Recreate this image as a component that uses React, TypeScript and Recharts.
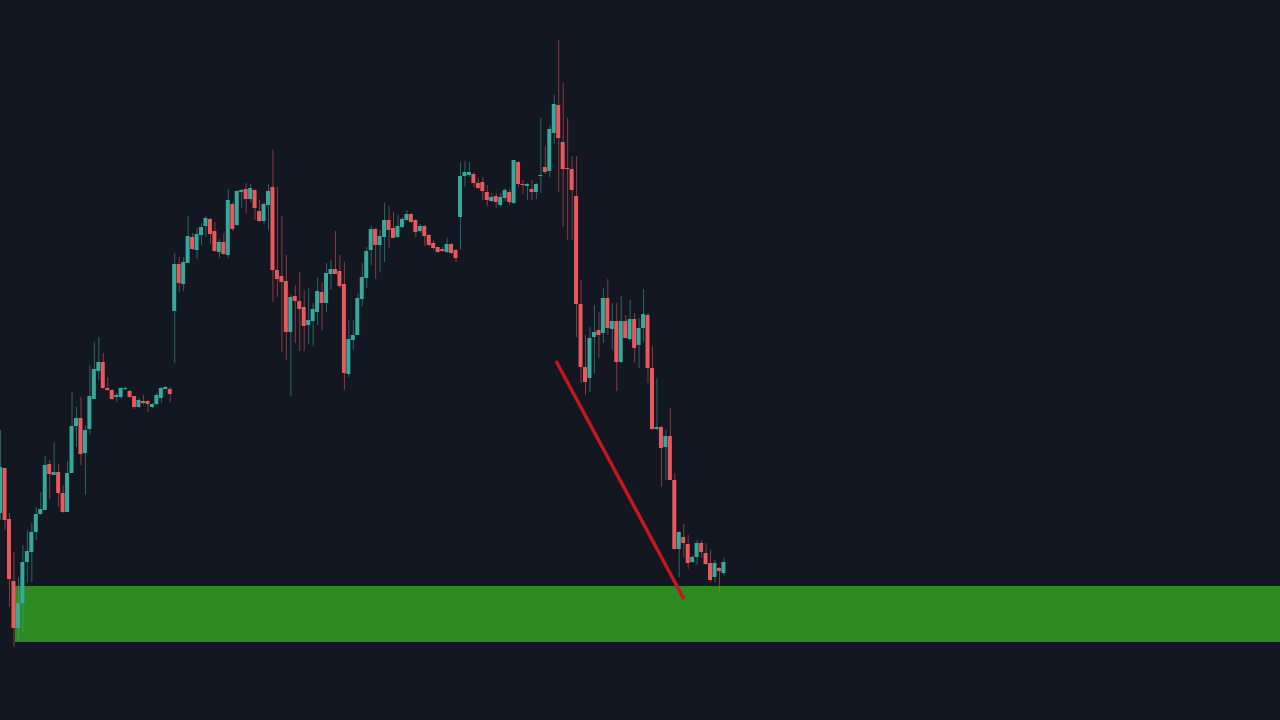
import { BarChart, Bar, Cell, XAxis, YAxis, ReferenceArea, ReferenceLine } from 'recharts';

// candle prices on a notional scale (the picture has no price axis)
const opens = [
  207, 252, 201, 139, 92, 117, 158, 168, 188, 206, 210, 256, 245, 248, 227, 208, 247, 294, 302, 267,
  291, 321, 349, 358, 332, 330, 323, 323, 331, 329, 324, 313, 319, 319, 313, 316, 322, 331, 331, 409,
  456, 436, 457, 483, 470, 485, 494, 501, 489, 468, 478, 465, 516, 495, 528, 531, 521, 530, 509, 499,
  515, 533, 450, 444, 439, 388, 424, 419, 413, 395, 399, 408, 428, 417, 446, 451, 449, 436, 346, 380,
  385, 421, 442, 470, 491, 475, 483, 500, 492, 483, 493, 500, 506, 500, 489, 494, 485, 477, 473, 471,
  468, 476, 470, 503, 544, 545, 546, 537, 538, 528, 519, 524, 515, 522, 528, 517, 558, 536, 534, 531,
  528, 544, 553, 549, 587, 615, 578, 552, 551, 524, 416, 353, 342, 383, 390, 387, 422, 391, 399, 358,
  399, 381, 401, 375, 392, 405, 352, 291, 293, 273, 284, 240, 171, 183, 176, 158, 163, 177, 167, 157,
  143, 152, 147,
];
const highs = [
  290, 252, 207, 168, 143, 175, 190, 197, 213, 228, 264, 260, 278, 256, 235, 259, 328, 313, 323, 295,
  355, 378, 383, 367, 343, 331, 327, 333, 333, 330, 324, 322, 325, 320, 317, 327, 333, 334, 333, 467,
  463, 463, 504, 487, 492, 497, 504, 502, 498, 481, 487, 531, 518, 530, 531, 537, 536, 531, 520, 518,
  536, 570, 533, 504, 465, 425, 435, 448, 430, 432, 417, 443, 438, 457, 460, 489, 465, 458, 400, 400,
  427, 457, 473, 494, 492, 490, 517, 514, 508, 505, 503, 510, 507, 501, 496, 495, 486, 480, 473, 473,
  482, 477, 471, 558, 559, 558, 548, 542, 543, 535, 527, 527, 527, 532, 531, 560, 559, 540, 537, 540,
  537, 602, 574, 595, 625, 680, 637, 602, 564, 564, 440, 385, 393, 415, 408, 432, 441, 417, 417, 424,
  405, 420, 407, 402, 431, 407, 374, 342, 294, 290, 312, 247, 189, 196, 185, 165, 180, 180, 177, 170,
  160, 153, 163,
];
const lows = [
  200, 190, 113, 73, 80, 88, 137, 138, 180, 205, 210, 221, 245, 213, 207, 208, 247, 273, 255, 225,
  286, 321, 340, 331, 329, 320, 318, 321, 330, 322, 311, 312, 315, 308, 312, 315, 317, 331, 318, 357,
  428, 429, 457, 470, 461, 475, 483, 476, 468, 462, 465, 462, 489, 494, 512, 507, 518, 500, 498, 496,
  490, 418, 423, 368, 360, 324, 377, 369, 369, 376, 374, 395, 390, 408, 430, 446, 432, 330, 343, 370,
  385, 414, 432, 455, 441, 448, 458, 472, 482, 482, 492, 499, 497, 483, 487, 474, 474, 470, 467, 468,
  467, 466, 458, 470, 533, 543, 533, 531, 520, 514, 518, 512, 513, 519, 515, 516, 533, 526, 520, 520,
  521, 527, 546, 543, 576, 528, 493, 480, 480, 383, 337, 325, 328, 347, 362, 377, 385, 370, 329, 357,
  382, 380, 357, 352, 378, 337, 290, 290, 233, 240, 240, 170, 143, 163, 151, 157, 155, 162, 155, 138,
  138, 128, 145,
];
const closes = [
  253, 200, 141, 92, 117, 158, 169, 188, 206, 211, 255, 246, 248, 227, 208, 247, 294, 302, 266, 290,
  324, 351, 358, 332, 330, 321, 325, 332, 332, 323, 313, 320, 317, 316, 316, 325, 332, 333, 326, 456,
  437, 458, 484, 471, 486, 493, 502, 486, 469, 478, 466, 520, 491, 529, 530, 521, 532, 512, 499, 516,
  529, 450, 441, 438, 388, 423, 419, 411, 394, 400, 411, 429, 417, 447, 451, 446, 434, 347, 381, 385,
  422, 443, 469, 491, 475, 484, 500, 490, 482, 494, 501, 506, 498, 488, 494, 484, 475, 472, 468, 469,
  476, 467, 462, 544, 548, 548, 537, 532, 529, 520, 523, 518, 523, 530, 518, 560, 536, 535, 536, 528,
  536, 545, 548, 591, 616, 582, 551, 551, 530, 416, 353, 338, 382, 388, 385, 422, 392, 399, 358, 399,
  382, 401, 372, 392, 406, 352, 291, 293, 272, 284, 240, 171, 188, 177, 157, 163, 177, 168, 156, 140,
  157, 149, 158,
];

const candles = opens.map((open, i) => ({
  slot: i,
  wick: [lows[i], highs[i]],
  body: [Math.min(open, closes[i]), Math.max(open, closes[i])],
  up: closes[i] >= open,
}));

const UP = '#36a99c';
const DOWN = '#e9585d';
const SLOT_DOMAIN = [-0.07, 286.6];

function App() {
  return (
    <div style={{ position: 'fixed', left: 0, top: 0, width: 1280, height: 720, background: '#131722' }}>
      <BarChart
        width={1280}
        height={720}
        data={candles}
        margin={{ top: 0, right: 0, bottom: 0, left: 0 }}
      >
        <XAxis xAxisId="wick" type="number" dataKey="slot" domain={SLOT_DOMAIN} allowDataOverflow hide />
        <XAxis xAxisId="body" type="number" dataKey="slot" domain={SLOT_DOMAIN} allowDataOverflow hide />
        <YAxis type="number" domain={[0, 720]} allowDataOverflow hide />
        <Bar xAxisId="wick" dataKey="wick" barSize={1} isAnimationActive={false}>
          {candles.map((c) => (
            <Cell key={c.slot} fill={c.up ? UP : DOWN} fillOpacity={0.55} />
          ))}
        </Bar>
        <Bar xAxisId="body" dataKey="body" barSize={4} minPointSize={1} isAnimationActive={false}>
          {candles.map((c) => (
            <Cell key={c.slot} fill={c.up ? UP : DOWN} />
          ))}
        </Bar>
        {/* translucent so the candles underneath show through lighter, as in the screenshot */}
        <ReferenceArea
          xAxisId="body"
          x1={3.29}
          x2={286.6}
          y1={78}
          y2={134}
          fill="#3dd722"
          fillOpacity={0.6}
          stroke="none"
          ifOverflow="hidden"
        />
        <ReferenceLine
          xAxisId="body"
          segment={[
            { x: 124.46, y: 359 },
            { x: 153.1, y: 121 },
          ]}
          stroke="#c8161f"
          strokeWidth={3.5}
        />
      </BarChart>
    </div>
  );
}

export default App;
